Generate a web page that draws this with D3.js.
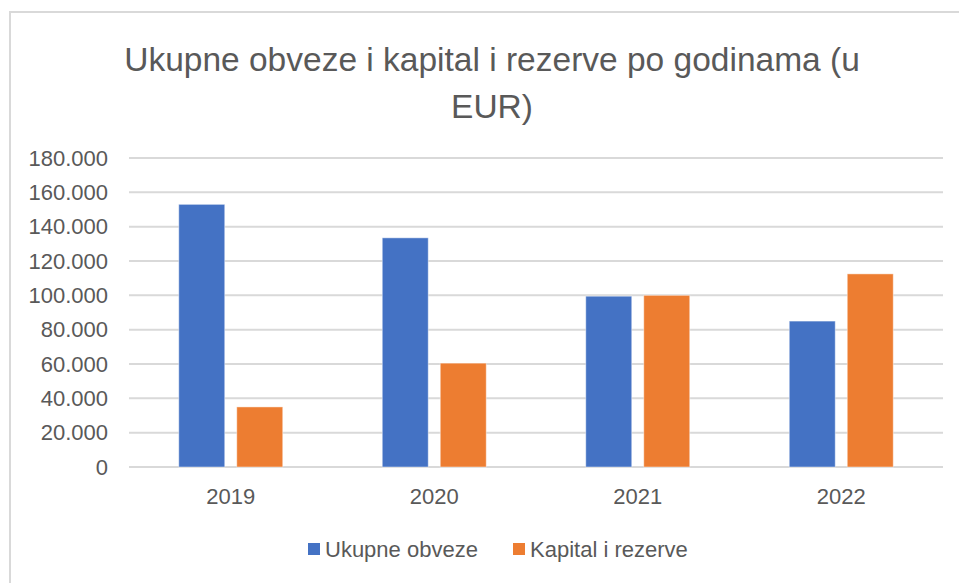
<!DOCTYPE html>
<html>
<head>
<meta charset="utf-8">
<script src="https://cdn.jsdelivr.net/npm/d3@7"></script>
<style>
  html, body { margin: 0; padding: 0; background: #fff; }
  svg { display: block; font-family: 'Liberation Sans', Arial, sans-serif; }
</style>
</head>
<body>
<div id="chart"></div>
<script>
'use strict';

// Data
const years = ['2019', '2020', '2021', '2022'];
const seriesNames = ['Ukupne obveze', 'Kapital i rezerve'];
const ukupneObveze = [153000, 133500, 99500, 85000];
const kapitalIRezerve = [35000, 60500, 100000, 112500];
const yTicks = [0, 20000, 40000, 60000, 80000, 100000, 120000, 140000, 160000, 180000];
const titleLines = ['Ukupne obveze i kapital i rezerve po godinama (u', 'EUR)'];
const colors = ['#4472C4', '#ED7D31'];

const W = 959, H = 583;
const plot = { left: 129, right: 943, top: 158, bottom: 467 };

const svg = d3.select('#chart').append('svg')
    .attr('width', W)
    .attr('height', H);

// Chart frame (top and left edge visible)
svg.append('path')
    .attr('d', `M10,${H} L10,12 L${W},12`)
    .attr('fill', 'none')
    .attr('stroke', '#d9d9d9')
    .attr('stroke-width', 2);

// Title
svg.append('text')
    .attr('text-anchor', 'middle')
    .attr('fill', '#595959')
    .attr('font-size', 33.5)
    .selectAll('tspan')
    .data(titleLines)
    .join('tspan')
    .attr('x', 492)
    .attr('y', (d, i) => 71 + i * 47)
    .text(d => d);

const locale = d3.formatLocale({ decimal: ',', thousands: '.', grouping: [3], currency: ['', ' €'] });
const fmt = locale.format(',.0f');

const y = d3.scaleLinear().domain([0, 180000]).range([plot.bottom, plot.top]);
const x0 = d3.scaleBand().domain(years).range([plot.left, plot.right])
    .paddingInner(0.489).paddingOuter(0.2445);
const x1 = d3.scaleBand().domain(seriesNames).range([0, x0.bandwidth()])
    .paddingInner(0.207);

// Gridlines
svg.append('g')
    .selectAll('line')
    .data(yTicks)
    .join('line')
    .attr('x1', plot.left)
    .attr('x2', plot.right)
    .attr('y1', d => y(d))
    .attr('y2', d => y(d))
    .attr('stroke', '#d9d9d9')
    .attr('stroke-width', 2);

// Y axis labels
const yAxis = svg.append('g')
    .attr('transform', 'translate(108,0)')
    .call(d3.axisLeft(y).tickValues(yTicks).tickFormat(fmt).tickSize(0).tickPadding(0));
yAxis.select('.domain').remove();
yAxis.selectAll('text')
    .attr('fill', '#595959')
    .attr('font-size', 22)
    .attr('font-family', "'Liberation Sans', Arial, sans-serif");

// Bars
const rows = years.map((yr, i) => ({ year: yr, values: [ukupneObveze[i], kapitalIRezerve[i]] }));
const group = svg.append('g')
    .selectAll('g')
    .data(rows)
    .join('g')
    .attr('transform', d => `translate(${x0(d.year)},0)`);

group.selectAll('rect')
    .data(d => d.values.map((v, k) => ({ name: seriesNames[k], value: v, k })))
    .join('rect')
    .attr('x', d => x1(d.name))
    .attr('y', d => y(d.value))
    .attr('width', x1.bandwidth())
    .attr('height', d => y(0) - y(d.value))
    .attr('fill', d => colors[d.k])
    .attr('stroke', 'rgba(255,255,255,0.45)')
    .attr('stroke-width', 1);

// X axis labels
const xAxis = svg.append('g')
    .attr('transform', `translate(0,${plot.bottom})`)
    .call(d3.axisBottom(x0).tickSize(0).tickPadding(21));
xAxis.select('.domain').remove();
xAxis.selectAll('text')
    .attr('fill', '#595959')
    .attr('font-size', 22)
    .attr('font-family', "'Liberation Sans', Arial, sans-serif");

// Legend
const legendX = [308, 513];
const legend = svg.append('g')
    .selectAll('g')
    .data(seriesNames)
    .join('g')
    .attr('transform', (d, i) => `translate(${legendX[i]},543)`);
legend.append('rect')
    .attr('width', 12)
    .attr('height', 12)
    .attr('fill', (d, i) => colors[i]);
legend.append('text')
    .attr('x', 17)
    .attr('y', 14)
    .attr('fill', '#595959')
    .attr('font-size', 22)
    .text(d => d);
</script>
</body>
</html>
